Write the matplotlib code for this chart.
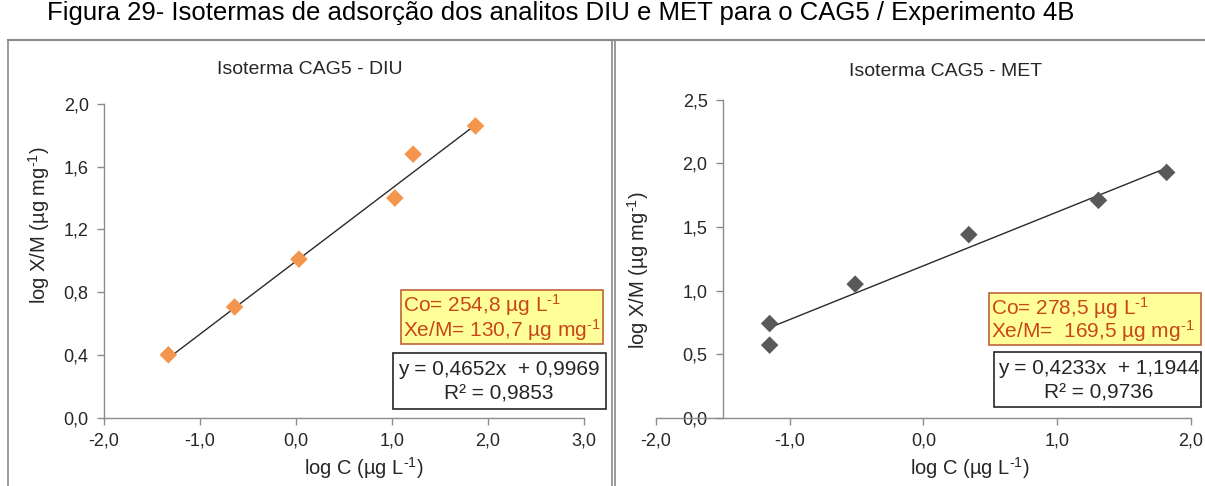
import matplotlib
matplotlib.use("Agg")
import matplotlib.pyplot as plt
from matplotlib.patches import Rectangle
from matplotlib.ticker import FuncFormatter
import numpy as np

plt.rcParams['font.family'] = ['Liberation Sans', 'DejaVu Sans']
plt.rcParams['mathtext.fontset'] = 'custom'
plt.rcParams['mathtext.rm'] = 'Liberation Sans'
plt.rcParams['mathtext.it'] = 'Liberation Sans:italic'
plt.rcParams['mathtext.default'] = 'regular'

# ---------------- data ----------------
fig_title = "Figura 29- Isotermas de adsorção dos analitos DIU e MET para o CAG5 / Experimento 4B"

diu_title = "Isoterma CAG5 - DIU"
diu_logC = [-1.33, -0.64, 0.03, 1.03, 1.22, 1.87]
diu_logXM = [0.40, 0.705, 1.01, 1.40, 1.68, 1.86]
diu_slope, diu_intercept = 0.4652, 0.9969
diu_box1 = ["Co= 254,8 µg L$^{\u20101}$", "Xe/M= 130,7 µg mg$^{\u20101}$"]
diu_box2 = ["y = 0,4652x  + 0,9969", "R² = 0,9853"]

met_title = "Isoterma CAG5 - MET"
met_logC = [-1.15, -1.15, -0.51, 0.34, 1.31, 1.82]
met_logXM = [0.74, 0.57, 1.05, 1.44, 1.71, 1.93]
met_slope, met_intercept = 0.4233, 1.1944
met_box1 = ["Co= 278,5 µg L$^{\u20101}$", "Xe/M=  169,5 µg mg$^{\u20101}$"]
met_box2 = ["y = 0,4233x  + 1,1944", "R² = 0,9736"]

diu_xticks = [-2, -1, 0, 1, 2, 3]
diu_yticks = [0.0, 0.4, 0.8, 1.2, 1.6, 2.0]
met_xticks = [-2, -1, 0, 1, 2]
met_yticks = [0.0, 0.5, 1.0, 1.5, 2.0, 2.5]

xlabel = "log C (µg L$^{\u20101}$)"
ylabel = "log X/M (µg mg$^{\u20101}$)"

# ---------------- layout ----------------
W, H = 1205, 486
fig = plt.figure(figsize=(W / 100, H / 100), dpi=100)
fig.patch.set_facecolor('white')

def rect(x0, x1, yt, yb):
    return [x0 / W, 1 - yb / H, (x1 - x0) / W, (yb - yt) / H]

AX_C = '#8c8c8c'
TXT = '#262626'
fmt = FuncFormatter(lambda v, p: f"{v:.1f}".replace('.', ','))

def style(ax, xlim, ylim, xticks, yticks):
    ax.set_xlim(*xlim)
    ax.set_ylim(*ylim)
    ax.set_xticks(xticks)
    ax.set_yticks(yticks)
    ax.xaxis.set_major_formatter(fmt)
    ax.yaxis.set_major_formatter(fmt)
    for s in ['top', 'right']:
        ax.spines[s].set_visible(False)
    for s in ['left', 'bottom']:
        ax.spines[s].set_color(AX_C)
        ax.spines[s].set_linewidth(1.0)
    ax.tick_params(direction='out', length=5, width=1.0, color=AX_C,
                   labelsize=13, labelcolor=TXT, pad=6)
    ax.set_facecolor('none')

# left chart
ax1 = fig.add_axes(rect(104, 584, 104, 417.5))
style(ax1, (-2, 3), (0, 2.0), diu_xticks, diu_yticks)
xl = np.array([min(diu_logC), max(diu_logC)])
ax1.plot(xl, diu_slope * xl + diu_intercept, color='#2a2a2a', lw=1.0, zorder=2)
ax1.scatter(diu_logC, diu_logXM, marker='D', s=80, color='#F3954C', edgecolors='none',
            zorder=3, clip_on=False)

# right chart
ax2 = fig.add_axes(rect(656, 1190.7, 100, 417.5))
style(ax2, (-2, 2), (0, 2.5), met_xticks, met_yticks)
ax2.spines['left'].set_position(('data', -1.5))
xl = np.array([min(met_logC), max(met_logC)])
ax2.plot(xl, met_slope * xl + met_intercept, color='#2a2a2a', lw=1.0, zorder=2)
ax2.scatter(met_logC, met_logXM, marker='D', s=80, color='#595959', edgecolors='none',
            zorder=3, clip_on=False)

# overlay for frames / boxes / labels (pixel coords)
ov = fig.add_axes([0, 0, 1, 1], zorder=5)
ov.set_xlim(0, W)
ov.set_ylim(H, 0)
ov.axis('off')
ov.patch.set_alpha(0)

ov.text(47, 13, fig_title, ha='left', va='center', fontsize=18.5, color='black')

FR = '#8a8a8a'
ov.plot([8, W], [40, 40], color=FR, lw=1.5)
ov.plot([8, 8], [40, H], color=FR, lw=1.2)
ov.plot([612, 612], [40, H], color=FR, lw=1.2)
ov.plot([614.5, 614.5], [40, H], color=FR, lw=1.2)

ov.text(310, 70, diu_title, ha='center', va='center', fontsize=14, color=TXT)
ov.text(946, 72, met_title, ha='center', va='center', fontsize=14, color=TXT)

ov.text(364, 468, xlabel, ha='center', va='center', fontsize=14.5, color=TXT)
ov.text(970, 468, xlabel, ha='center', va='center', fontsize=14.5, color=TXT)
ov.text(39, 225, ylabel, ha='center', va='center', rotation=90, fontsize=14.5, color=TXT)
ov.text(638, 270, ylabel, ha='center', va='center', rotation=90, fontsize=14.5, color=TXT)

OR_TXT = '#C9461B'
def boxes(b1, b2, orect, brect, tx1, tx2):
    x0, x1, y0, y1 = orect
    ov.add_patch(Rectangle((x0, y0), x1 - x0, y1 - y0, facecolor='#FFFF99',
                           edgecolor='#C0623A', lw=1.2, zorder=6))
    ov.text(tx1, (y0 * 0.72 + y1 * 0.28), b1[0], ha='left', va='center', fontsize=15,
            color=OR_TXT, zorder=7)
    ov.text(tx1, (y0 * 0.26 + y1 * 0.74), b1[1], ha='left', va='center', fontsize=15,
            color=OR_TXT, zorder=7)
    x0, x1, y0, y1 = brect
    ov.add_patch(Rectangle((x0, y0), x1 - x0, y1 - y0, facecolor='white',
                           edgecolor='#262626', lw=1.2, zorder=6))
    ov.text(tx2, (y0 * 0.70 + y1 * 0.30), b2[0], ha='center', va='center', fontsize=15,
            color=TXT, zorder=7)
    ov.text(tx2, (y0 * 0.26 + y1 * 0.74), b2[1], ha='center', va='center', fontsize=15,
            color=TXT, zorder=7)

boxes(diu_box1, diu_box2, (401, 603, 290, 344), (393, 606, 353, 409), 403, 499)
boxes(met_box1, met_box2, (989, 1201, 293, 345), (994, 1201, 352, 407), 991, 1099)

fig.savefig('out.png', dpi=100, facecolor='white')
